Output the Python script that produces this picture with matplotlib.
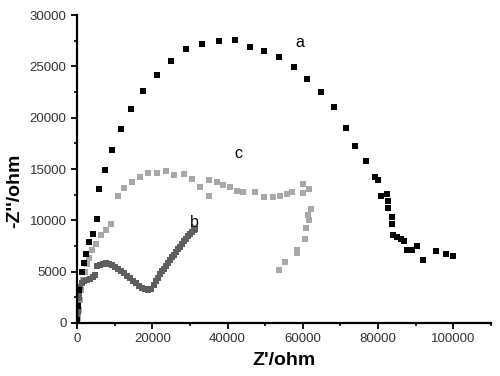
import matplotlib
matplotlib.use('Agg')
import matplotlib.pyplot as plt
from matplotlib.ticker import MultipleLocator

plt.rcParams['font.family'] = ['Liberation Sans', 'DejaVu Sans']

# series a (black)
a_x = [0, 300, 500, 1300, 1900, 2400, 3200, 4200, 5200, 5900, 7400, 9400, 11800,
       14300, 17600, 21200, 25000, 29000, 33300, 37600, 42000, 45900, 49700, 53700,
       57600, 61100, 64700, 68300, 71600, 73900, 76900, 79100, 79900, 80700, 82300,
       82500, 82700, 83800, 83800, 84000, 84900, 86000, 86900, 87800, 88900, 90400,
       92000, 95300, 98100, 100000]
a_y = [300, 1700, 3200, 5000, 5800, 6700, 7900, 8700, 10100, 13100, 14900, 16900, 18900,
       20800, 22600, 24200, 25500, 26700, 27200, 27500, 27600, 26900, 26500, 25900,
       24900, 23800, 22500, 21000, 19000, 17200, 15800, 14200, 13900, 12400, 12600,
       11900, 11200, 10300, 9600, 8600, 8400, 8200, 8000, 7100, 7100, 7500,
       6100, 7000, 6700, 6500]

# series b (dark grey)
b_x = [80, 190, 320, 480, 660, 880, 1200, 1860, 2660, 3450, 4250, 4780, 5310, 6110,
       6910, 7700, 8500, 9300, 10090, 10890, 11690, 12480, 13280, 14070, 14870, 15670,
       16470, 17260, 18060, 18860, 19650, 20450, 20980, 21510, 22050, 22580, 23110,
       23640, 24170, 24700, 25230, 25760, 26290, 26830, 27360, 27890, 28420, 28950,
       29480, 30010, 30540, 31080, 31470]
b_y = [460, 1040, 1720, 2410, 2990, 3480, 3870, 4060, 4160, 4300, 4450, 4650, 5530, 5670,
       5770, 5810, 5790, 5670, 5470, 5280, 5080, 4840, 4600, 4350, 4110, 3870,
       3620, 3430, 3280, 3230, 3330, 3670, 4060, 4400, 4740, 5040, 5280,
       5570, 5860, 6110, 6400, 6640, 6890, 7180, 7420, 7710, 7960, 8200,
       8440, 8640, 8830, 9030, 9180]

# series c (light grey)
c_x = [130, 270, 530, 800, 1060, 1590, 2120, 2580, 3270, 4060, 5130, 6370, 7620, 8950,
       10810, 12560, 14690, 16650, 18940, 21170, 23560, 25840, 28340, 30460, 32750,
       35060, 35060, 37100, 38860, 40640, 42420, 44170, 47280, 49670, 52140, 53920,
       55700, 57020, 59950, 60100, 61700, 62150, 61350, 61700, 60740, 60480, 58510,
       58510, 55330, 53730]
c_y = [70, 460, 1240, 2200, 3190, 4160, 4970, 5790, 6370, 7150, 7730, 8610, 9030, 9680,
       12340, 13150, 13700, 14220, 14580, 14650, 14840, 14450, 14510, 14060, 13220,
       12340, 13930, 13730, 13480, 13250, 12860, 12760, 12730, 12270, 12270, 12340,
       12540, 12760, 12660, 13510, 13090, 11140, 10560, 10070, 9250, 8220, 7080,
       6820, 5940, 5130]

labels = [('a', 59200, 27300), ('c', 43000, 16500), ('b', 31100, 9800)]

fig = plt.figure(figsize=(5.0, 3.76), dpi=100)
ax = fig.add_axes([0.154, 0.141, 0.828, 0.819])

ax.plot(c_x, c_y, 's', color='#a8a8a8', markersize=4.0, markeredgewidth=0)
ax.plot(b_x, b_y, 's', color='#5e5e5e', markersize=4.2, markeredgewidth=0)
ax.plot(a_x, a_y, 's', color='black', markersize=4.0, markeredgewidth=0)

for txt, x, y in labels:
    ax.text(x, y, txt, fontsize=11.5, ha='center', va='center')

ax.set_xlim(0, 110000)
ax.set_ylim(0, 30000)
ax.xaxis.set_major_locator(MultipleLocator(20000))
ax.xaxis.set_minor_locator(MultipleLocator(10000))
ax.yaxis.set_major_locator(MultipleLocator(5000))
ax.yaxis.set_minor_locator(MultipleLocator(2500))

for s in ['top', 'right']:
    ax.spines[s].set_visible(False)
for s in ['left', 'bottom']:
    ax.spines[s].set_linewidth(1.6)

ax.tick_params(which='major', direction='out', length=4, width=1.3, labelsize=9.5,
               labelcolor='#333333')
ax.tick_params(which='minor', direction='out', length=2.5, width=1.2)

ax.set_xlabel("Z'/ohm", fontsize=14, fontweight='bold', labelpad=5)
ax.set_ylabel("-Z''/ohm", fontsize=14, fontweight='bold', labelpad=4)
ax.yaxis.set_label_coords(-0.13, 0.43)

fig.savefig('out.png', dpi=100)
